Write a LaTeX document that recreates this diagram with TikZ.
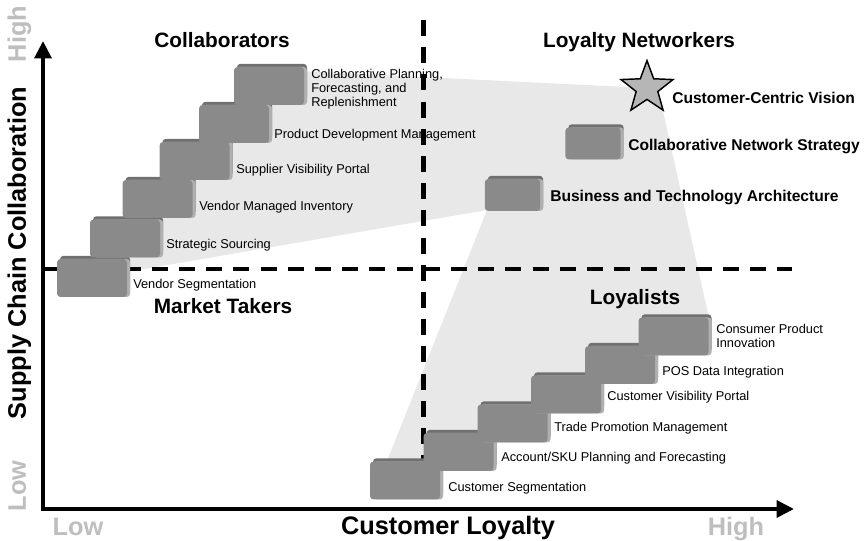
\documentclass[tikz,border=0pt]{standalone}
\usepackage{fontspec}
\setmainfont{Liberation Sans}
\usetikzlibrary{arrows.meta,shapes.geometric,shadows}

\definecolor{zonegray}{RGB}{232,232,232}
\definecolor{boxface}{RGB}{138,138,138}
\definecolor{boxtop}{RGB}{112,112,112}
\definecolor{boxside}{RGB}{176,176,176}
\definecolor{stargray}{RGB}{182,182,182}
\definecolor{scalegray}{RGB}{190,190,190}

\tikzset{
  stairbox/.style={rectangle, rounded corners=2.6pt, fill=boxface, inner sep=0pt,
    minimum width=52.5pt, minimum height=28.5pt,
    general shadow={fill=boxtop, shadow xshift=2.25pt, shadow yshift=2.4pt},
    general shadow={fill=boxside, shadow xshift=2.4pt, shadow yshift=0pt}},
  smallbox/.style={stairbox, minimum width=41.5pt, minimum height=24pt},
  stairlabel/.style={anchor=west, inner sep=0pt, align=left,
    font=\fontsize{9.6}{10.5}\selectfont},
  goallabel/.style={anchor=west, inner sep=0pt, font=\bfseries\fontsize{11.7}{14}\selectfont},
  quadrant/.style={inner sep=0pt, font=\bfseries\fontsize{15.6}{18}\selectfont},
  axislabel/.style={inner sep=0pt, font=\bfseries\fontsize{19}{22}\selectfont},
  scalelabel/.style={axislabel, text=scalegray},
  divider/.style={line width=3.5pt, dash pattern=on 12pt off 8.4pt},
  axis/.style={line width=3pt, {Triangle[length=13pt,width=12.5pt]}-{Triangle[length=13pt,width=12.5pt]}},
  goalstar/.style={star, star points=5, star point ratio=2.4, minimum size=41pt, inner sep=0pt,
    fill=stargray, draw=black, line width=1.1pt}
}

\begin{document}
\begin{tikzpicture}[x=0.75pt,y=0.75pt,yscale=-1,xscale=1]
\path [use as bounding box] (0,0) rectangle (865,541); %set diagram left start at 0, and has height of 541

%Shape: Polygon
\fill [zonegray] (92,278) -- (269,86) -- (238,68) -- (647,88) -- (663,111) -- (709,318) -- (673,337) -- (405,480) -- (387,461) -- (487,210) -- cycle ;

% Text Node
\node [stairlabel] (vsegtxt) at (133,285) {Vendor Segmentation};
% Text Node
\node [stairlabel] (ssrctxt) at (166,245) {Strategic Sourcing};
% Text Node
\node [stairlabel] (vmitxt) at (199,207) {Vendor Managed Inventory};
% Text Node
\node [stairlabel] (svptxt) at (236,170) {Supplier Visibility Portal};
% Text Node
\node [stairlabel] (pdmtxt) at (274,135) {Product Development Management};
% Text Node
\node [stairlabel] (cpfrtxt) at (311,89) {Collaborative Planning,\\Forecasting, and\\Replenishment};
% Text Node
\node [stairlabel] (csegtxt) at (448,488) {Customer Segmentation};
% Text Node
\node [stairlabel] (askutxt) at (501,458) {Account/SKU Planning and Forecasting};
% Text Node
\node [stairlabel] (tpmtxt) at (554,428) {Trade Promotion Management};
% Text Node
\node [stairlabel] (cvptxt) at (607,397) {Customer Visibility Portal};
% Text Node
\node [stairlabel] (postxt) at (662,372) {POS Data Integration};
% Text Node
\node [stairlabel] (cpitxt) at (716,335.5) {Consumer Product\\Innovation};
% Text Node
\node [goallabel] (btatxt) at (550,198) {Business and Technology Architecture};
% Text Node
\node [goallabel] (cnstxt) at (628,147) {Collaborative Network Strategy};
% Text Node
\node [goallabel] (ccvtxt) at (672,98) {Customer-Centric Vision};

%Straight Lines
\coordinate (vtop) at (423.5,20);
\coordinate (vbot) at (423.5,506);
\coordinate (hleft) at (43,269);
\coordinate (hright) at (792,269);
\draw [divider] (vtop) -- (vbot) ;
\draw [divider] (hleft) -- (hright) ;

%Shape: Boxes
\node [stairbox] (vseg) at (92,278) {};
\node [stairbox] (ssrc) at (125,238.5) {};
\node [stairbox] (vmi) at (157.5,199) {};
\node [stairbox] (svp) at (194.5,161) {};
\node [stairbox] (pdm) at (234,124) {};
\node [stairbox] (cpfr) at (269,86) {};
%Shape: Boxes
\node [stairbox] (cseg) at (405,480.5) {};
\node [stairbox] (asku) at (458.5,452) {};
\node [stairbox] (tpm) at (512.5,423.5) {};
\node [stairbox] (cvp) at (566,394.5) {};
\node [stairbox] (pos) at (620,365) {};
\node [stairbox] (cpi) at (673.5,336.5) {};
%Shape: Boxes
\node [smallbox] (bta) at (512.5,195) {};
\node [smallbox] (cns) at (593,143.5) {};

%Shape: Star
\node [goalstar] (vision) at (647,88) {};

%Straight Lines
\coordinate (ytip) at (43,41);
\coordinate (origin) at (43,509);
\coordinate (xtip) at (794,509);
\draw [axis] (ytip) -- (origin) -- (xtip) ;

% Text Node
\node [quadrant] (collab) at (222,40) {Collaborators};
% Text Node
\node [quadrant] (networkers) at (639,42) {Loyalty Networkers};
% Text Node
\node [quadrant] (takers) at (223,306) {Market Takers};
% Text Node
\node [quadrant] (loyalists) at (635,299) {Loyalists};

% Text Node
\node [axislabel, anchor=base, rotate=90] (ylabel) at (26,253) {Supply Chain Collaboration};
% Text Node
\node [scalelabel, anchor=base, rotate=90] (yhigh) at (26,34) {High};
% Text Node
\node [scalelabel, anchor=base, rotate=90] (ylow) at (26,486) {Low};
% Text Node
\node [axislabel, anchor=base] (xlabel) at (448,535) {Customer Loyalty};
% Text Node
\node [scalelabel, anchor=base] (xlow) at (78,536) {Low};
% Text Node
\node [scalelabel, anchor=base] (xhigh) at (736,536) {High};

\end{tikzpicture}
\end{document}
